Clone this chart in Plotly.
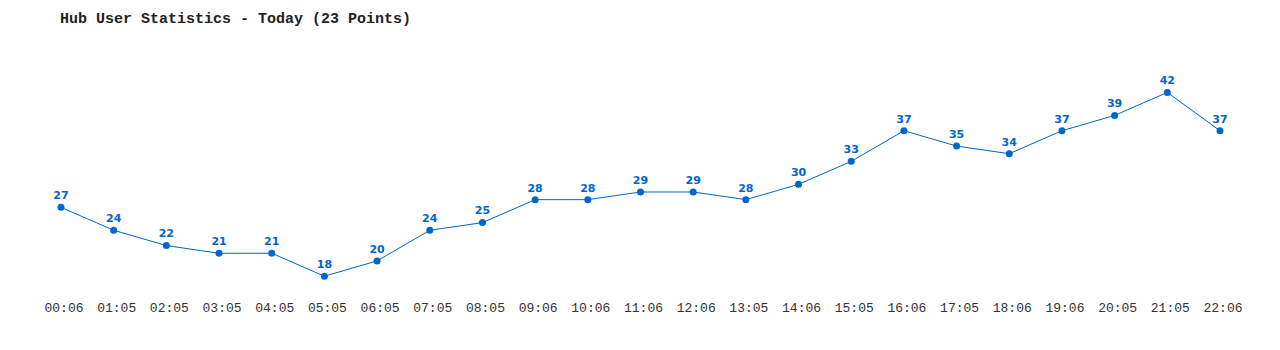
import plotly.graph_objects as go

times = ["00:06","01:05","02:05","03:05","04:05","05:05","06:05","07:05","08:05","09:06",
         "10:06","11:06","12:06","13:05","14:06","15:05","16:06","17:05","18:06","19:06",
         "20:05","21:05","22:06"]
users = [27,24,22,21,21,18,20,24,25,28,28,29,29,28,30,33,37,35,34,37,39,42,37]
idx = list(range(len(times)))

color = "#0066cc"
fig = go.Figure(go.Scatter(
    x=idx, y=users, mode="lines+markers+text",
    line=dict(color=color, width=1),
    marker=dict(color=color, size=7),
    text=[str(v) for v in users], textposition="top center",
    textfont=dict(family="DejaVu Sans", size=11, color=color, weight="bold"),
    cliponaxis=False, hoverinfo="skip",
))
fig.update_layout(
    width=1280, height=350,
    margin=dict(l=0, r=0, t=40, b=60),
    paper_bgcolor="white", plot_bgcolor="white",
    showlegend=False,
    title=dict(text="Hub User Statistics - Today (23 Points)", x=60/1280, xanchor="left",
               y=1-18/350, yanchor="middle",
               font=dict(family="Liberation Mono", size=15, color="#222", weight="bold")),
    xaxis=dict(range=[-61/52.68, 22+60/52.68], tickvals=idx, ticktext=times,
               showgrid=False, zeroline=False, showline=False, ticks="",
               ticklabelstandoff=8, ticklabelshift=3,
               tickfont=dict(family="Liberation Mono", size=13, color="#333")),
    yaxis=dict(range=[16.2, 48.85], visible=False),
)
fig.write_html("out.html")
